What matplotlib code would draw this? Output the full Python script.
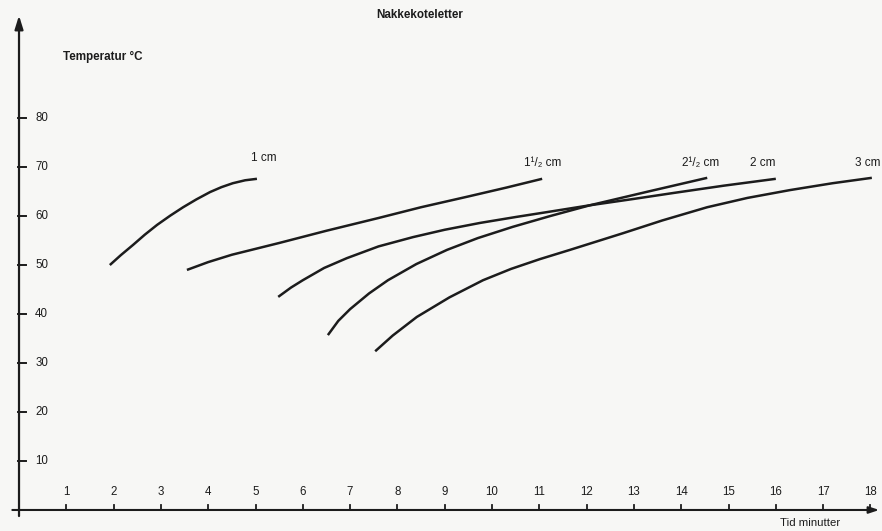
import matplotlib
matplotlib.use("Agg")
import matplotlib.pyplot as plt

plt.rcParams['font.family'] = ['Liberation Sans', 'DejaVu Sans']

## curve data (minutes, deg C)
x_1cm = [1.92, 2.15, 2.41, 2.66, 2.92, 3.2, 3.47, 3.75, 4.04, 4.28, 4.52, 4.78, 5.03]
y_1cm = [50.0, 52.0, 54.1, 56.2, 58.2, 60.1, 61.8, 63.4, 64.9, 65.9, 66.7, 67.3, 67.6]

x_15cm = [3.55, 4.0, 4.5, 5.0, 5.5, 6.5, 7.6, 8.5, 9.5, 10.3, 11.06]
y_15cm = [49.0, 50.6, 52.1, 53.3, 54.5, 57.0, 59.6, 61.8, 64.0, 65.8, 67.6]

x_2cm = [5.48, 5.75, 6.0, 6.45, 6.93, 7.6, 8.33, 9.0, 9.75, 10.5, 11.16,
         12.07, 13.0, 13.83, 14.9, 16.0]
y_2cm = [43.5, 45.4, 46.9, 49.4, 51.4, 53.8, 55.7, 57.2, 58.6, 59.8, 60.8,
         62.2, 63.5, 64.7, 66.2, 67.6]

x_25cm = [6.53, 6.75, 7.0, 7.4, 7.8, 8.4, 9.05, 9.7, 10.44, 11.23, 12.07, 13.3, 14.55]
y_25cm = [35.7, 38.6, 41.0, 44.2, 46.9, 50.2, 53.1, 55.5, 57.8, 60.0, 62.2, 65.0, 67.8]

x_3cm = [7.53, 7.9, 8.41, 9.1, 9.81, 10.4, 11.01, 11.65, 12.77, 13.6, 14.55,
         15.4, 16.3, 17.2, 18.03]
y_3cm = [32.4, 35.6, 39.4, 43.4, 46.9, 49.2, 51.2, 53.1, 56.5, 59.1, 61.8,
         63.7, 65.3, 66.7, 67.8]

curves = [(x_1cm, y_1cm), (x_15cm, y_15cm), (x_2cm, y_2cm),
          (x_25cm, y_25cm), (x_3cm, y_3cm)]

# curve labels and where they sit
labels = ["1 cm", "1¹/₂ cm", "2¹/₂ cm", "2 cm", "3 cm"]
label_x = [5.18, 11.08, 14.42, 15.73, 18.22]
label_y = [71.8, 70.8, 70.8, 70.8, 70.8]
label_ha = ["center", "center", "center", "center", "right"]

xticks = list(range(1, 19))
yticks = [10, 20, 30, 40, 50, 60, 70, 80]

ink = "#1c1c1c"
bg = "#f7f7f5"

fig = plt.figure(figsize=(8.82, 5.31), dpi=100, facecolor=bg)
ax = fig.add_axes([0, 0, 1, 1])
ax.set_facecolor(bg)
ax.set_xlim(-0.402, 18.245)
ax.set_ylim(-4.29, 104.1)
ax.axis("off")

for cx, cy in curves:
    ax.plot(cx, cy, color=ink, lw=1.8, solid_capstyle="butt",
            solid_joinstyle="round")

for t, lx, ly, ha in zip(labels, label_x, label_y, label_ha):
    ax.text(lx, ly, t, ha=ha, va="center", fontsize=8.5, color=ink)

# axes with arrows
ax.annotate("", xy=(0, 101.5), xytext=(0, -1.8),
            arrowprops=dict(arrowstyle="-|>,head_length=0.8,head_width=0.25",
                            color=ink, lw=1.6))
ax.annotate("", xy=(18.245, 0), xytext=(-0.2, 0),
            arrowprops=dict(arrowstyle="-|>,head_length=0.6,head_width=0.2",
                            color=ink, lw=1.5))

for xt in xticks:
    ax.plot([xt, xt], [0, 1.0], color=ink, lw=1.3)
    ax.text(xt, 3.6, str(xt), ha="center", va="center", fontsize=8.3, color=ink)

for yt in yticks:
    ax.plot([-0.03, 0.15], [yt, yt], color=ink, lw=1.4)
    ax.text(0.34, yt, str(yt), ha="left", va="center", fontsize=8.3, color=ink)

ax.text(8.48, 101, "Nakkekoteletter", ha="center", va="center",
        fontsize=8.4, fontweight="bold", color=ink)
ax.text(0.93, 92.4, "Temperatur °C", ha="left", va="center",
        fontsize=8.4, fontweight="bold", color=ink)
ax.text(16.09, -2.7, "Tid minutter", ha="left", va="center",
        fontsize=8.2, color=ink)

plt.savefig("out.png", dpi=100, facecolor=bg)
